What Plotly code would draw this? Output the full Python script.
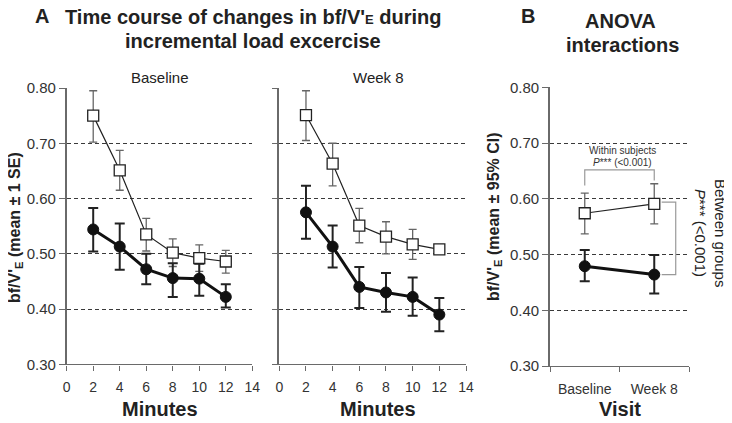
import plotly.graph_objects as go

W, H = 732, 423
OFF = 8  # page offset of the figure div (default body margin)

# ---------------- data ----------------
minutes = [2, 4, 6, 8, 10, 12]
x_ticks = [0, 2, 4, 6, 8, 10, 12, 14]
y_ticks = [0.30, 0.40, 0.50, 0.60, 0.70, 0.80]
y_ticktext = ["0.30", "0.40", "0.50", "0.60", "0.70", "0.80"]

# Baseline panel
base_open = [0.750, 0.651, 0.535, 0.502, 0.492, 0.486]
base_open_up = [0.045, 0.036, 0.029, 0.025, 0.024, 0.020]
base_open_dn = [0.048, 0.036, 0.030, 0.025, 0.024, 0.021]
base_fill = [0.544, 0.513, 0.472, 0.456, 0.455, 0.422]
base_fill_up = [0.039, 0.042, 0.028, 0.027, 0.027, 0.023]
base_fill_dn = [0.040, 0.042, 0.027, 0.034, 0.031, 0.019]

# Week 8 panel
wk8_open = [0.751, 0.663, 0.551, 0.531, 0.517, 0.508]
wk8_open_up = [0.044, 0.037, 0.031, 0.027, 0.027, 0.004]
wk8_open_dn = [0.046, 0.040, 0.031, 0.031, 0.027, 0.004]
wk8_fill = [0.575, 0.513, 0.440, 0.430, 0.422, 0.390]
wk8_fill_up = [0.048, 0.038, 0.036, 0.035, 0.035, 0.030]
wk8_fill_dn = [0.048, 0.038, 0.038, 0.035, 0.034, 0.030]

# ANOVA panel
visits = ["Baseline", "Week 8"]
visit_pos = [0.5, 1.5]
anova_open = [0.574, 0.591]
anova_open_up = [0.036, 0.036]
anova_open_dn = [0.037, 0.036]
anova_fill = [0.479, 0.464]
anova_fill_up = [0.029, 0.035]
anova_fill_dn = [0.027, 0.034]


def px_x(p):
    return (p - OFF) / W


def px_y(p):
    return 1 - (p - OFF) / H


TXT = "#222222"
AX = "#6a6a6a"
GRID = "#3a3a3a"
FONT = "Liberation Sans, Arial, sans-serif"

fig = go.Figure()


def add_series(xv, yv, up, dn, xa, ya, filled):
    if filled:
        fig.add_trace(go.Scatter(
            x=xv, y=yv, xaxis=xa, yaxis=ya, mode="lines+markers",
            line=dict(color="#111111", width=3),
            marker=dict(symbol="circle", size=11, color="#111111",
                        line=dict(color="#111111", width=1)),
            error_y=dict(type="data", symmetric=False, array=up, arrayminus=dn,
                         color="#222222", thickness=2, width=5),
            showlegend=False, cliponaxis=False))
    else:
        fig.add_trace(go.Scatter(
            x=xv, y=yv, xaxis=xa, yaxis=ya, mode="lines+markers",
            line=dict(color="#222222", width=1.2),
            marker=dict(symbol="square", size=11, color="white",
                        line=dict(color="#222222", width=1.3)),
            error_y=dict(type="data", symmetric=False, array=up, arrayminus=dn,
                         color="#666666", thickness=1.3, width=4),
            showlegend=False, cliponaxis=False))


add_series(minutes, base_open, base_open_up, base_open_dn, "x", "y", False)
add_series(minutes, base_fill, base_fill_up, base_fill_dn, "x", "y", True)
add_series(minutes, wk8_open, wk8_open_up, wk8_open_dn, "x2", "y2", False)
add_series(minutes, wk8_fill, wk8_fill_up, wk8_fill_dn, "x2", "y2", True)
add_series(visit_pos, anova_open, anova_open_up, anova_open_dn, "x3", "y3", False)
add_series(visit_pos, anova_fill, anova_fill_up, anova_fill_dn, "x3", "y3", True)

ydomA = [px_y(364.3), px_y(88)]
ydomB = [px_y(366), px_y(87.3)]

common_y = dict(range=[0.3, 0.8], tickvals=y_ticks, ticktext=y_ticktext,
                showgrid=True, gridcolor=GRID, gridwidth=1, griddash="4px,3px",
                showline=True, linecolor=AX, linewidth=1.6, ticks="outside",
                ticklen=6, tickcolor=AX, tickwidth=1.3, zeroline=False,
                automargin=False,
                tickfont=dict(size=15, color="#333333", family=FONT))
common_x = dict(range=[0, 14], tickvals=x_ticks, showgrid=False,
                showline=True, linecolor=AX, linewidth=1.4, ticks="outside",
                ticklen=5, tickcolor=AX, tickwidth=1.3, zeroline=False,
                automargin=False, ticklabelstandoff=5,
                tickfont=dict(size=14, color="#333333", family=FONT))

fig.update_layout(
    width=W, height=H,
    margin=dict(l=0, r=0, t=0, b=0, pad=0),
    paper_bgcolor="white", plot_bgcolor="white",
    font=dict(family=FONT, color=TXT),
    xaxis=dict(domain=[px_x(66.7), px_x(252.3)], anchor="y", **common_x),
    yaxis=dict(domain=ydomA, anchor="x", **common_y),
    xaxis2=dict(domain=[px_x(279.3), px_x(466)], anchor="y2", **common_x),
    yaxis2=dict(domain=ydomA, anchor="x2", showticklabels=False, **{k: v for k, v in common_y.items() if k != "tickfont"}),
    xaxis3=dict(domain=[px_x(550), px_x(689)], anchor="y3", range=[0, 2],
                tickvals=visit_pos, ticktext=visits, ticks="", showgrid=False,
                showline=True, linecolor=AX, linewidth=1.4, zeroline=False,
                automargin=False, ticklabelstandoff=10,
                tickfont=dict(size=14, color="#333333", family=FONT),
                minor=dict(tickvals=[0, 1, 2], ticks="outside", ticklen=5,
                           tickcolor=AX, tickwidth=1.3, showgrid=False)),
    yaxis3=dict(domain=ydomB, anchor="x3", **common_y),
)

ann = []


def text(x, y, s, size, bold=False, angle=0, color=TXT, xanchor="center"):
    ann.append(dict(x=px_x(x), y=px_y(y), xref="paper", yref="paper",
                    text=("<b>%s</b>" % s) if bold else s, showarrow=False,
                    textangle=angle, xanchor=xanchor, yanchor="middle",
                    font=dict(size=size, color=color, family=FONT)))


text(42, 16, "A", 20, bold=True)
text(253, 17, "Time course of changes in bf/V'<span style='font-size:13px'>E</span> during", 20, bold=True)
text(253, 41, "incremental load excercise", 20, bold=True)
text(528, 16, "B", 20, bold=True)
text(620, 21, "ANOVA", 20, bold=True)
text(622, 45, "interactions", 20, bold=True)
text(160, 77, "Baseline", 15)
text(378, 77, "Week 8", 15)
text(160, 409, "Minutes", 20, bold=True)
text(378, 409, "Minutes", 20, bold=True)
text(620, 409, "Visit", 20, bold=True)
text(15, 228, "bf/V'<sub>E</sub> (mean ± 1 SE)", 16, bold=True, angle=-90)
text(495, 217, "bf/V'<sub>E</sub> (mean ± 95% CI)", 16, bold=True, angle=-90)
text(622, 150, "Within subjects", 10, color="#333333")
text(622, 162, "<i>P</i>*** (&lt;0.001)", 10, color="#333333")
text(721, 233, "Between groups", 15, angle=90)
text(701, 233, "<i>P</i>*** (&lt;0.001)", 15, angle=90)

fig.update_layout(annotations=ann)

# brackets (data coords of panel B)
BR = "#999999"
fig.add_shape(type="path", xref="x3", yref="y3",
              path="M 0.5,0.624 L 0.5,0.652 L 1.5,0.652 L 1.5,0.633",
              line=dict(color=BR, width=1.2))
fig.add_shape(type="path", xref="x3", yref="y3",
              path="M 1.607,0.594 L 1.809,0.594 L 1.809,0.464 L 1.607,0.464",
              line=dict(color=BR, width=1.2))

fig.write_html("out.html")
